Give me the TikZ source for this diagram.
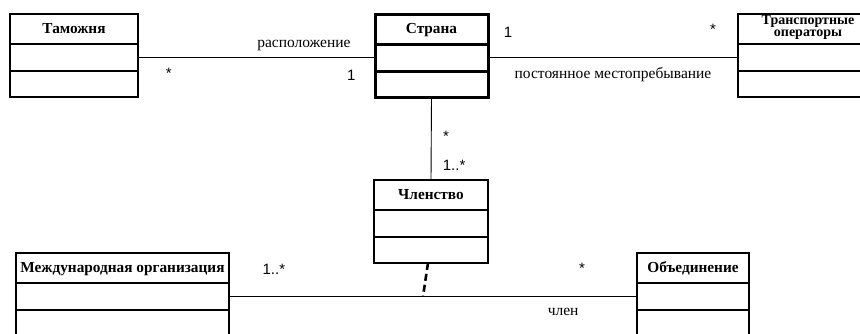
\documentclass[tikz,border=0pt]{standalone}
\usepackage{fontspec}
\setmainfont{Liberation Serif}
\newfontfamily\arial{Liberation Sans}
\usetikzlibrary{positioning,calc}

% class box: title + two empty compartments
\newcommand\umlclass[6]{%
  \node[cls,#6,minimum width=#4,minimum height=30pt,anchor=north west] (#1) at (#2,#3) {#5};
  \node[cls,#6,minimum width=#4,minimum height=27pt,below=0pt of #1] (#1a) {};
  \node[cls,#6,minimum width=#4,minimum height=26pt,below=0pt of #1a] (#1b) {};
}

\begin{document}
\begin{tikzpicture}[x=1pt,y=-1pt,
  cls/.style={draw, line width=1.1pt, inner sep=0pt, outer sep=0pt, text height=10pt, text depth=1pt,
    align=center, font=\bfseries\fontsize{15.3}{15}\selectfont},
  thickcls/.style={line width=3pt},
  assoc/.style={line width=0.9pt},
  role/.style={font=\fontsize{15.5}{16}\selectfont},
  mult/.style={font=\arial\fontsize{15}{16}\selectfont}]
\useasboundingbox (0,0) rectangle (860,333);
\clip (0,0) rectangle (860,333);

\umlclass{tam}{10}{14}{128pt}{Таможня}{}
\umlclass{str}{375}{14}{113pt}{Страна}{thickcls}
\umlclass{tr}{738}{14}{140pt}{Транспортные\\операторы}{text height=19pt, text depth=4pt, font=\bfseries\fontsize{14}{12.5}\selectfont}
\umlclass{chl}{374}{180}{114pt}{Членство}{}
\umlclass{mo}{16}{253}{213pt}{Международная организация}{}
\umlclass{ob}{637}{253}{112pt}{Объединение}{}

\draw[assoc] (tama.east) -- (tama.east -| stra.west)
  node[role,pos=0.7,above=3pt]{расположение}
  node[mult,pos=0.13,below=7pt]{*}
  node[mult,pos=0.9,below=9pt]{1};
\draw[assoc] (stra.east) -- (stra.east -| tra.west)
  node[mult,pos=0.08,above=16pt]{1}
  node[mult,pos=0.9,above=19pt]{*}
  node[role,pos=0.5,below=6pt]{постоянное местопребывание};
\draw[assoc] (strb.south) -- (chl.north)
  node[mult,pos=0.47,right=8pt]{*}
  node[mult,pos=0.82,right=8pt]{1..*};
\draw[assoc] (moa.east) -- (moa.east -| oba.west)
  node[mult,pos=0.11,above=18pt]{1..*}
  node[mult,pos=0.865,above=19pt]{*}
  node[role,pos=0.819,below=8pt]{член};
\coordinate (memb) at ($(moa.east)!0.4755!(oba.west)$);
\draw[line width=2.6pt,dash pattern=on 7pt off 4pt] ([xshift=-3pt]chlb.south) -- (memb);

\end{tikzpicture}
\end{document}
